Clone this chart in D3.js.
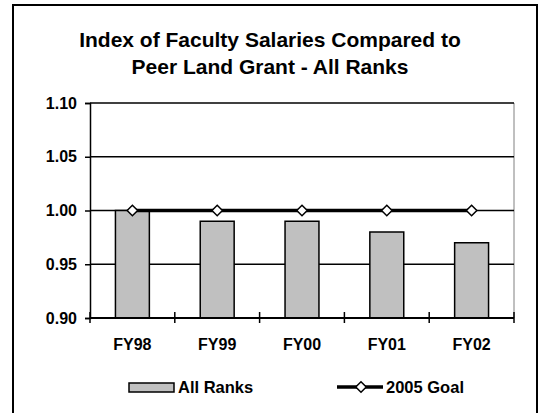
<!DOCTYPE html>
<html><head><meta charset="utf-8">
<script src="https://cdn.jsdelivr.net/npm/d3@7"></script>
<style>body{margin:0;background:#fff;}svg{display:block;font-family:Arial,"Liberation Sans",sans-serif;}</style>
</head><body>
<script>
const categories = ["FY98","FY99","FY00","FY01","FY02"];
const allRanks = [1.00, 0.99, 0.99, 0.98, 0.97];
const goal2005 = [1.00, 1.00, 1.00, 1.00, 1.00];
const yTicks = [0.90, 0.95, 1.00, 1.05, 1.10];
const titleLines = ["Index of Faculty Salaries Compared to", "Peer Land Grant - All Ranks"];

const W = 541, H = 413;
const svg = d3.select("body").append("svg").attr("width", W).attr("height", H);

// outer chart border
svg.append("rect").attr("x", 13).attr("y", 5).attr("width", 524).attr("height", 420)
  .attr("fill", "#fff").attr("stroke", "#000").attr("stroke-width", 2);

// title
svg.append("text").attr("text-anchor", "middle").attr("font-weight", "bold").attr("font-size", 21)
  .selectAll("tspan").data(titleLines).join("tspan")
  .attr("x", 270).attr("y", (d, i) => 47 + i * 27).text(d => d);

const x0 = 90, x1 = 514, yT = 103, yB = 318;
const x = d3.scaleBand().domain(categories).range([x0, x1]).paddingInner(0.6).paddingOuter(0.3);
const xb = d3.scaleBand().domain(categories).range([x0, x1]);
const y = d3.scaleLinear().domain([0.9, 1.1]).range([yB, yT]);

// plot right border (gray)
svg.append("line").attr("x1", x1).attr("x2", x1).attr("y1", yT).attr("y2", yB)
  .attr("stroke", "#808080").attr("stroke-width", 1);

// gridlines
svg.append("g").selectAll("line").data(yTicks.filter(d => d > 0.9)).join("line")
  .attr("x1", x0).attr("x2", x1).attr("y1", d => y(d)).attr("y2", d => y(d))
  .attr("stroke", "#000").attr("stroke-width", 1.5);

// bars
svg.append("g").selectAll("rect").data(allRanks).join("rect")
  .attr("x", (d, i) => x(categories[i])).attr("width", x.bandwidth())
  .attr("y", d => y(d)).attr("height", d => yB - y(d))
  .attr("fill", "#c0c0c0").attr("stroke", "#000").attr("stroke-width", 1.5);

// y axis
const yAxis = d3.axisLeft(y).tickValues(yTicks).tickFormat(d3.format(".2f")).tickSize(5).tickPadding(8);
const gy = svg.append("g").attr("transform", `translate(${x0},0)`).call(yAxis);
gy.select(".domain").attr("stroke", "#000").attr("stroke-width", 1.5);
gy.selectAll(".tick line").attr("stroke", "#000").attr("stroke-width", 1.5);
gy.selectAll("text").attr("font-size", 16).attr("font-weight", "bold").attr("fill", "#000")
  .attr("font-family", "Arial, 'Liberation Sans', sans-serif");

// x axis
const gx = svg.append("g").attr("transform", `translate(0,${yB})`);
gx.append("line").attr("x1", x0).attr("x2", x1).attr("y1", 0).attr("y2", 0)
  .attr("stroke", "#000").attr("stroke-width", 2);
const bounds = categories.map(c => xb(c)).concat([x1]);
gx.selectAll("line.tk").data(bounds).join("line").attr("class", "tk")
  .attr("x1", d => d).attr("x2", d => d).attr("y1", -6).attr("y2", 5)
  .attr("stroke", "#000").attr("stroke-width", 1.5);
gx.selectAll("text").data(categories).join("text")
  .attr("x", d => xb(d) + xb.bandwidth() / 2).attr("y", 32)
  .attr("text-anchor", "middle").attr("font-size", 16).attr("font-weight", "bold").text(d => d);

// goal line
const line = d3.line().x((d, i) => xb(categories[i]) + xb.bandwidth() / 2).y(d => y(d));
svg.append("path").datum(goal2005).attr("d", line).attr("fill", "none")
  .attr("stroke", "#000").attr("stroke-width", 3.5);
const diamond = d3.symbol().type(d3.symbolDiamond2).size(70);
svg.append("g").selectAll("path").data(goal2005).join("path")
  .attr("transform", (d, i) => `translate(${xb(categories[i]) + xb.bandwidth() / 2},${y(d)})`)
  .attr("d", diamond).attr("fill", "#fff").attr("stroke", "#000").attr("stroke-width", 1.5);

// legend
const lg = svg.append("g");
lg.append("rect").attr("x", 129).attr("y", 383).attr("width", 45).attr("height", 9)
  .attr("fill", "#c0c0c0").attr("stroke", "#000").attr("stroke-width", 1.5);
lg.append("text").attr("x", 178).attr("y", 393).attr("font-size", 16.5).attr("font-weight", "bold").text("All Ranks");
lg.append("line").attr("x1", 337).attr("x2", 383).attr("y1", 387).attr("y2", 387)
  .attr("stroke", "#000").attr("stroke-width", 3.5);
lg.append("path").attr("transform", "translate(361,387)").attr("d", diamond)
  .attr("fill", "#fff").attr("stroke", "#000").attr("stroke-width", 1.5);
lg.append("text").attr("x", 386).attr("y", 393).attr("font-size", 16.5).attr("font-weight", "bold").text("2005 Goal");
</script>
</body></html>
